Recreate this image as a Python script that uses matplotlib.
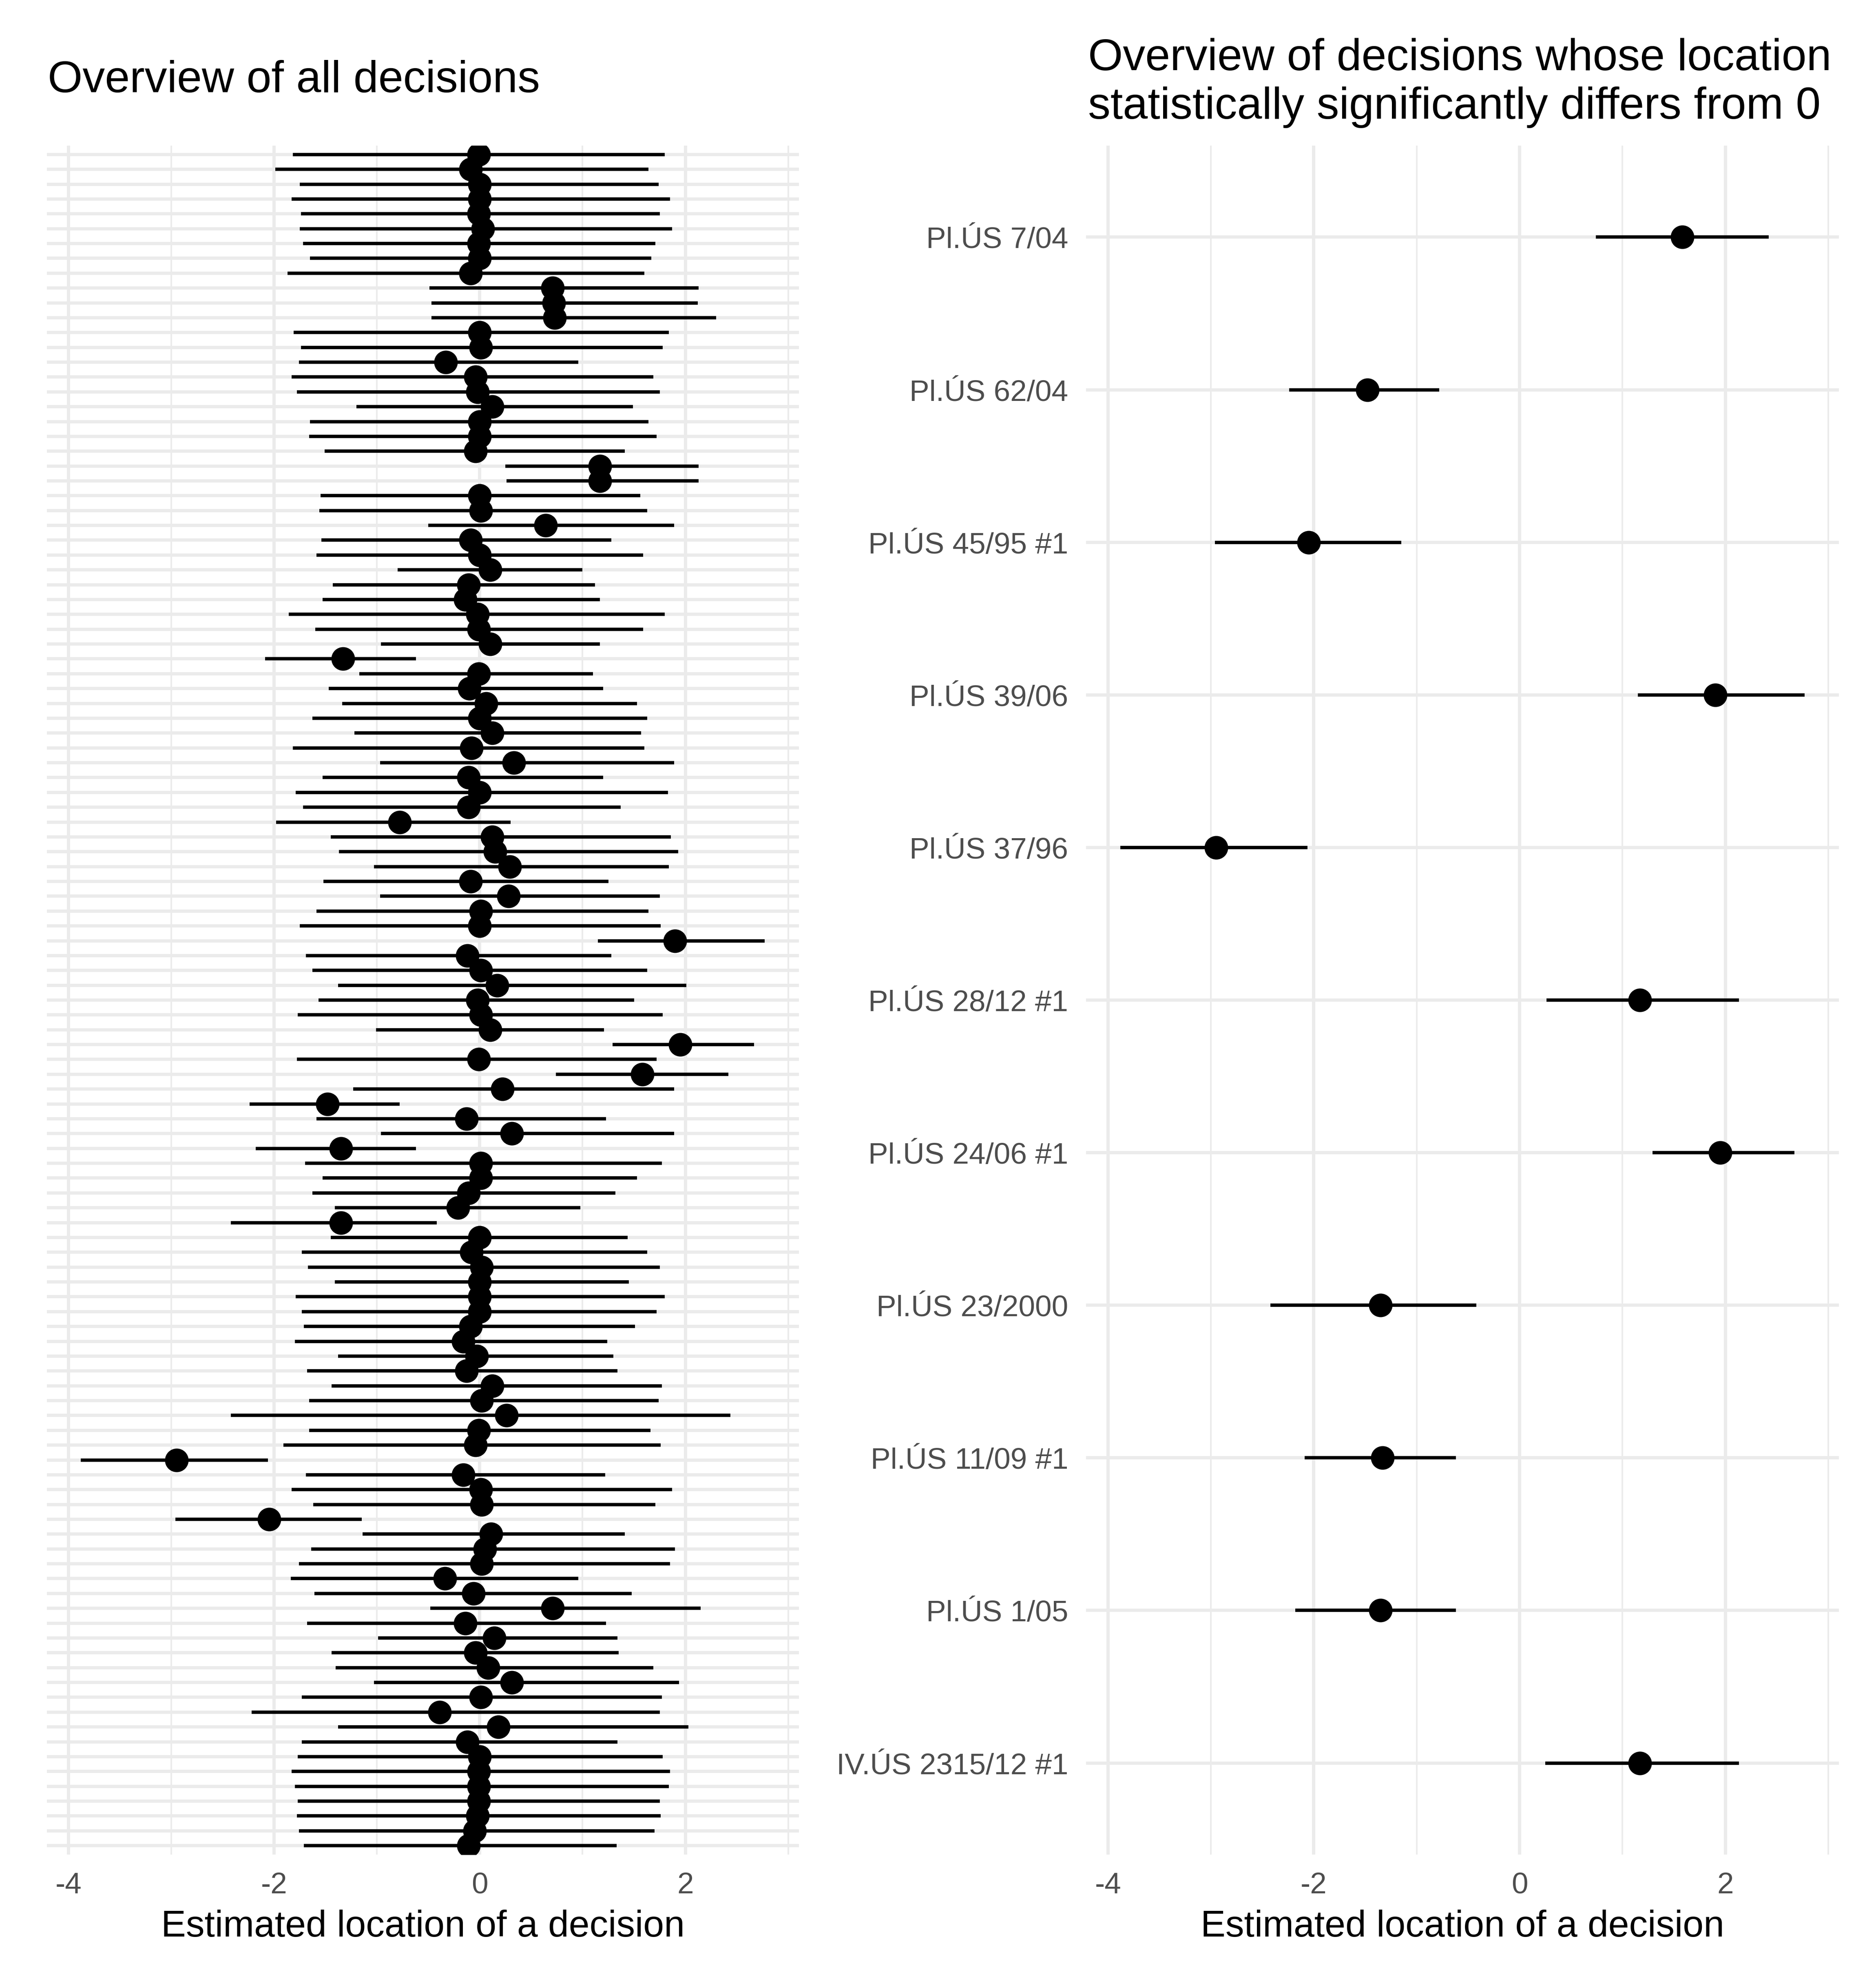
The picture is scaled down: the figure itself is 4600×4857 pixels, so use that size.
import matplotlib
matplotlib.use("Agg")
import matplotlib.pyplot as plt
import numpy as np

plt.rcParams['font.family'] = ['Liberation Sans', 'DejaVu Sans']
plt.rcParams['axes.unicode_minus'] = False

# ---- Left panel: all decisions (top to bottom) ----
all_est = [-0.01, -0.09, 0.00, 0.00, -0.01, 0.03, -0.01, 0.00, -0.09, 0.71,
           0.72, 0.73, 0.00, 0.01, -0.33, -0.04, -0.02, 0.12, 0.00, 0.00,
           -0.04, 1.17, 1.17, 0.00, 0.01, 0.64, -0.09, 0.00, 0.10, -0.11,
           -0.14, -0.02, -0.01, 0.10, -1.33, -0.01, -0.10, 0.06, 0.00, 0.12,
           -0.08, 0.33, -0.11, 0.00, -0.11, -0.78, 0.12, 0.15, 0.29, -0.09,
           0.28, 0.01, 0.00, 1.90, -0.12, 0.01, 0.17, -0.02, 0.01, 0.10,
           1.95, -0.01, 1.58, 0.22, -1.48, -0.13, 0.31, -1.35, 0.01, 0.01,
           -0.11, -0.21, -1.35, 0.00, -0.08, 0.02, 0.00, 0.00, 0.00, -0.09,
           -0.16, -0.03, -0.13, 0.12, 0.02, 0.26, -0.01, -0.04, -2.95, -0.16,
           0.01, 0.02, -2.05, 0.11, 0.05, 0.02, -0.34, -0.06, 0.71, -0.14,
           0.14, -0.04, 0.08, 0.31, 0.01, -0.39, 0.18, -0.12, 0.00, -0.01,
           -0.01, -0.01, -0.02, -0.05, -0.11]
all_lo = [-1.82, -1.99, -1.75, -1.83, -1.74, -1.75, -1.72, -1.65, -1.87, -0.49,
          -0.47, -0.47, -1.81, -1.74, -1.76, -1.83, -1.78, -1.20, -1.65, -1.66,
          -1.51, 0.25, 0.26, -1.55, -1.56, -0.50, -1.54, -1.59, -0.80, -1.43,
          -1.53, -1.86, -1.60, -0.96, -2.09, -1.17, -1.47, -1.34, -1.63, -1.22,
          -1.82, -0.97, -1.53, -1.79, -1.72, -1.98, -1.45, -1.37, -1.03, -1.52,
          -0.97, -1.59, -1.75, 1.15, -1.69, -1.63, -1.38, -1.57, -1.77, -1.01,
          1.29, -1.78, 0.74, -1.23, -2.24, -1.59, -0.96, -2.18, -1.70, -1.53,
          -1.63, -1.41, -2.42, -1.45, -1.73, -1.67, -1.41, -1.79, -1.73, -1.71,
          -1.80, -1.38, -1.68, -1.44, -1.66, -2.42, -1.66, -1.91, -3.88, -1.69,
          -1.83, -1.62, -2.96, -1.14, -1.64, -1.76, -1.84, -1.61, -0.48, -1.68,
          -0.99, -1.44, -1.40, -1.03, -1.73, -2.22, -1.38, -1.73, -1.77, -1.83,
          -1.80, -1.77, -1.78, -1.76, -1.71]
all_hi = [1.80, 1.64, 1.74, 1.85, 1.75, 1.87, 1.71, 1.67, 1.60, 2.13,
          2.12, 2.30, 1.84, 1.78, 0.96, 1.69, 1.75, 1.49, 1.64, 1.72,
          1.41, 2.13, 2.13, 1.56, 1.63, 1.89, 1.28, 1.59, 1.00, 1.12,
          1.17, 1.80, 1.59, 1.17, -0.62, 1.10, 1.20, 1.53, 1.63, 1.57,
          1.60, 1.89, 1.20, 1.83, 1.37, 0.30, 1.86, 1.93, 1.84, 1.25,
          1.75, 1.64, 1.76, 2.77, 1.28, 1.63, 2.01, 1.50, 1.78, 1.21,
          2.67, 1.72, 2.42, 1.89, -0.78, 1.23, 1.89, -0.62, 1.77, 1.53,
          1.32, 0.98, -0.42, 1.44, 1.63, 1.75, 1.45, 1.80, 1.72, 1.51,
          1.24, 1.30, 1.34, 1.77, 1.74, 2.44, 1.66, 1.76, -2.06, 1.22,
          1.87, 1.71, -1.15, 1.41, 1.90, 1.85, 0.96, 1.48, 2.15, 1.23,
          1.34, 1.35, 1.69, 1.94, 1.77, 1.75, 2.03, 1.34, 1.78, 1.85,
          1.84, 1.75, 1.76, 1.70, 1.33]

# ---- Right panel: significant decisions (top to bottom) ----
sig_labels = ["Pl.ÚS 7/04", "Pl.ÚS 62/04", "Pl.ÚS 45/95 #1", "Pl.ÚS 39/06",
              "Pl.ÚS 37/96", "Pl.ÚS 28/12 #1", "Pl.ÚS 24/06 #1", "Pl.ÚS 23/2000",
              "Pl.ÚS 11/09 #1", "Pl.ÚS 1/05", "IV.ÚS 2315/12 #1"]
sig_est = [1.58, -1.48, -2.05, 1.90, -2.95, 1.17, 1.95, -1.35, -1.33, -1.35, 1.17]
sig_lo = [0.74, -2.24, -2.96, 1.15, -3.88, 0.26, 1.29, -2.42, -2.09, -2.18, 0.25]
sig_hi = [2.42, -0.78, -1.15, 2.77, -2.06, 2.13, 2.67, -0.42, -0.62, -0.62, 2.13]

x_major = [-4, -2, 0, 2]
x_minor = [-3, -1, 1, 3]
x_label = "Estimated location of a decision"
title_left = "Overview of all decisions"
title_right_lines = ["Overview of decisions whose location",
                     "statistically significantly differs from 0"]

W, H = 4600, 4858
DPI = 300
fig = plt.figure(figsize=(W / DPI, H / DPI), dpi=DPI, facecolor='white')

grid_col = '#EBEBEB'
tick_col = '#4D4D4D'
TICK_FS = 17.5
AX_FS = 21.9
TITLE_FS = 26.3
MS = 13.9


def style_axis(ax, n, xlim, labels=None):
    ax.set_xlim(*xlim)
    ax.set_ylim(-0.6, n - 1 + 0.6)
    ax.set_xticks(x_major)
    ax.set_xticks(x_minor, minor=True)
    ax.set_xticklabels([str(v) for v in x_major])
    ax.set_yticks(np.arange(n))
    if labels is None:
        ax.set_yticklabels([])
    else:
        ax.set_yticklabels(labels[::-1])
    ax.grid(True, which='major', axis='both', color=grid_col, lw=1.9, zorder=0)
    ax.grid(True, which='minor', axis='x', color=grid_col, lw=0.95, zorder=0)
    ax.set_axisbelow(True)
    for s in ax.spines.values():
        s.set_visible(False)
    ax.tick_params(axis='both', which='both', length=0, labelsize=TICK_FS,
                   labelcolor=tick_col)
    ax.tick_params(axis='x', pad=10)
    ax.tick_params(axis='y', pad=10.5)
    ax.set_xlabel(x_label, fontsize=AX_FS, color='black', labelpad=6)


def draw(ax, est, lo, hi):
    n = len(est)
    y = np.arange(n)[::-1]
    ax.hlines(y, lo, hi, color='black', lw=2.0, zorder=2)
    ax.plot(est, y, 'o', color='black', ms=MS, mew=0, zorder=3)


def ggexpand(lo, hi):
    a, b = min(lo), max(hi)
    p = 0.05 * (b - a)
    return (a - p, b + p)


bottom = (H - 4548) / H
height = (4548 - 358) / H
ax1 = fig.add_axes([114.5 / W, bottom, 1844 / W, height])
ax2 = fig.add_axes([2663 / W, bottom, 1846 / W, height])

draw(ax1, all_est, all_lo, all_hi)
style_axis(ax1, len(all_est), ggexpand(all_lo, all_hi))

draw(ax2, sig_est, sig_lo, sig_hi)
style_axis(ax2, len(sig_est), ggexpand(sig_lo, sig_hi), labels=sig_labels)

fig.text(117 / W, 1 - 226 / H, title_left, fontsize=TITLE_FS, va='baseline', ha='left')
for line, base in zip(title_right_lines, [172, 291]):
    fig.text(2668 / W, 1 - base / H, line, fontsize=TITLE_FS, va='baseline', ha='left')

fig.savefig("out.png", dpi=DPI, facecolor='white')
